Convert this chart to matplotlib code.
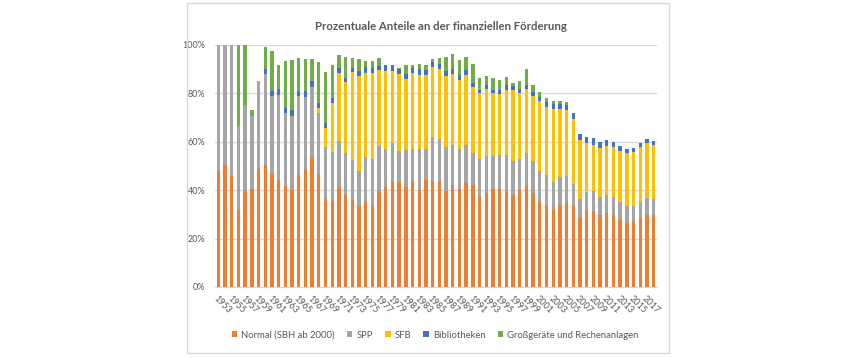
import matplotlib
matplotlib.use("Agg")
import matplotlib.pyplot as plt
import matplotlib.patches as mpatches
from matplotlib.ticker import PercentFormatter, FixedLocator
import numpy as np

years = list(range(1953, 2019))

normal = [48.1, 50.5, 45.7, 32.2, 39.8, 40.3, 49.0, 50.3, 46.9, 44.2,
          41.8, 40.2, 46.4, 48.7, 53.9, 46.1, 36.5, 35.4, 41.1, 38.1,
          35.8, 33.3, 35.6, 34.0, 39.5, 41.5, 43.9, 43.3, 41.2, 43.6,
          40.2, 44.4, 43.6, 44.0, 39.6, 42.0, 40.6, 42.8, 42.1, 37.0,
          38.7, 40.6, 40.4, 39.5, 38.1, 40.0, 42.1, 38.7, 35.4, 33.3,
          32.2, 33.7, 35.2, 33.6, 28.9, 31.9, 31.5, 29.7, 30.4, 29.6,
          27.5, 26.4, 26.7, 28.7, 29.8, 29.8]
spp = [51.9, 49.5, 54.3, 34.5, 35.4, 30.4, 36.3, 37.6, 32.2, 35.3,
       30.0, 30.5, 32.6, 30.0, 28.8, 25.7, 21.4, 20.4, 19.3, 17.1,
       16.7, 14.6, 18.3, 19.0, 18.8, 15.7, 15.7, 12.7, 15.3, 13.6,
       17.0, 12.8, 18.3, 17.1, 18.4, 16.6, 16.5, 15.9, 13.2, 15.8,
       15.6, 13.7, 14.2, 15.0, 13.8, 12.7, 13.1, 13.2, 12.7, 12.8,
       11.3, 11.8, 10.5, 8.8, 7.4, 7.4, 8.0, 7.3, 7.6, 7.7,
       7.7, 7.2, 6.9, 6.5, 6.9, 6.7]
sfb = [0, 0, 0, 0, 0, 0, 0, 0, 0, 0,
       0, 0, 0, 0, 0, 2.2, 7.7, 20.1, 28.2, 29.7,
       36.4, 39.4, 34.4, 35.3, 31.4, 32.2, 29.8, 32.0, 29.4, 31.4,
       30.4, 30.4, 29.0, 29.1, 29.3, 29.6, 28.6, 28.8, 27.5, 27.3,
       27.7, 25.8, 25.3, 26.9, 29.3, 27.5, 26.8, 27.2, 28.7, 28.2,
       30.0, 28.0, 27.5, 26.9, 24.4, 20.1, 19.1, 20.6, 20.3, 20.6,
       21.2, 21.6, 22.1, 22.6, 22.7, 22.2]
bibliotheken = [0, 0, 0, 0, 0, 0, 0, 2.2, 1.9, 2.2,
                2.1, 2.3, 2.0, 2.2, 2.6, 2.2, 2.2, 2.0, 1.8, 1.6,
                1.5, 2.1, 2.5, 2.1, 1.8, 2.2, 2.2, 2.2, 2.3, 1.9,
                2.4, 2.1, 1.9, 2.1, 2.1, 1.9, 1.9, 2.0, 1.7, 1.5,
                1.6, 1.5, 1.5, 2.0, 1.9, 1.8, 1.6, 1.5, 1.9, 2.2,
                2.2, 2.2, 2.2, 2.4, 2.7, 2.4, 2.9, 2.5, 2.5, 1.9,
                1.9, 1.9, 1.8, 1.6, 1.8, 1.7]
grossgeraete = [0, 0, 0, 33.3, 24.8, 2.5, 0, 9.2, 16.4, 10.2,
                19.5, 20.9, 13.5, 13.5, 8.8, 16.8, 20.9, 14.0, 5.3, 8.5,
                4.1, 5.0, 2.6, 3.0, 3.1, 0, 0, 0.4, 3.7, 1.4,
                2.0, 2.2, 1.4, 2.3, 5.5, 6.2, 6.2, 5.7, 7.7, 4.6,
                3.6, 4.8, 4.2, 3.4, 1.1, 3.1, 6.5, 3.0, 1.8, 1.5,
                1.2, 1.2, 1.2, 0, 0, 0, 0, 0, 0, 0,
                0, 0, 0, 0, 0, 0]

series = [
    ("Normal (SBH ab 2000)", normal, "#ED7D31"),
    ("SPP", spp, "#A5A5A5"),
    ("SFB", sfb, "#FFC000"),
    ("Bibliotheken", bibliotheken, "#4472C4"),
    ("Großgeräte und Rechenanlagen", grossgeraete, "#70AD47"),
]

plt.rcParams['font.family'] = ['Lato', 'DejaVu Sans']
W, H = 858, 358
fig = plt.figure(figsize=(W / 100, H / 100), dpi=100)

# chart frame
fig.patches.append(mpatches.Rectangle((187 / W, 1 - 353 / H), (669 - 187) / W, (353 - 3) / H,
                                      transform=fig.transFigure, fill=False,
                                      edgecolor="#D9D9D9", linewidth=1.0))

ax = fig.add_axes([215 / W, 1 - 287 / H, (657 - 215) / W, (287 - 45) / H])
x = np.arange(len(years))
bottom = np.zeros(len(years))
for name, vals, col in series:
    v = np.array(vals, dtype=float)
    ax.bar(x, v, bottom=bottom, width=0.5, color=col, label=name, zorder=3)
    bottom += v

ax.set_xlim(-0.5, len(years) - 0.5)
ax.set_ylim(0, 100)
ax.yaxis.set_major_locator(FixedLocator([0, 20, 40, 60, 80, 100]))
ax.yaxis.set_major_formatter(PercentFormatter(decimals=0))
ax.grid(axis="y", color="#D9D9D9", linewidth=1.0, zorder=0)
for s in ["top", "right", "left"]:
    ax.spines[s].set_visible(False)
ax.spines["bottom"].set_color("#D9D9D9")
ax.tick_params(axis="both", length=0, colors="#595959", labelsize=6.5)
ax.tick_params(axis="y", pad=7)

ax.set_xticks(x[::2])
ax.set_xticklabels([str(y) for y in years[::2]], rotation=-45, ha="left",
                   rotation_mode="anchor", fontsize=6.5, color="#595959")
ax.tick_params(axis="x", pad=5)

fig.text(441 / W, 1 - 27 / H, "Prozentuale Anteile an der finanziellen Förderung",
         ha="center", va="center", fontsize=8.2, fontweight="bold", color="#595959")

handles, labels = ax.get_legend_handles_labels()
leg = fig.legend(handles, labels, loc="center", bbox_to_anchor=(435 / W, 1 - 335 / H),
                 ncol=5, frameon=False, fontsize=6.8, handlelength=0.6, handleheight=0.6,
                 handletextpad=0.4, columnspacing=1.3, labelcolor="#595959")

fig.savefig("out.png", dpi=100)
